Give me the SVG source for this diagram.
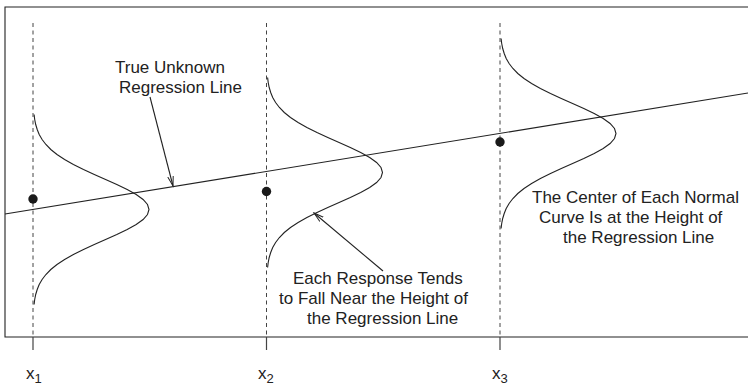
<svg xmlns="http://www.w3.org/2000/svg" width="748" height="385" viewBox="0 0 748 385">
<style>
.ln{fill:none;stroke:#222;stroke-width:1.1}
.dash{fill:none;stroke:#444;stroke-width:1;stroke-dasharray:4,3.5}
.tick{fill:none;stroke:#444;stroke-width:1.2}
.dot{fill:#1a1a1a}
.t{font-family:"Liberation Sans",Arial,sans-serif;font-size:17px;fill:#222}
.sub{font-size:13px}
</style>
<defs>
<path id="normal" class="ln" d="M1.1,-95 L1.7,-90 L2.7,-85 L4.2,-80 L6.2,-75 L9.1,-70 L12.9,-65 L17.8,-60 L24,-55 L31.6,-50 L40.4,-45 L50.5,-40 L61.3,-35 L72.6,-30 L83.8,-25 L94.2,-20 L103.2,-15 L110.1,-10 L114.5,-5 L116,0 L114.5,5 L110.1,10 L103.2,15 L94.2,20 L83.8,25 L72.6,30 L61.3,35 L50.5,40 L40.4,45 L31.6,50 L24,55 L17.8,60 L12.9,65 L9.1,70 L6.2,75 L4.2,80 L2.7,85 L1.7,90 L1.1,95"/>
<marker id="arr" markerWidth="12" markerHeight="8" refX="10" refY="4" orient="auto" markerUnits="userSpaceOnUse">
<path d="M0,1.2 L10,4 L0,6.8" fill="none" stroke="#222" stroke-width="1"/>
</marker>
</defs>
<g id="frame">
<path class="ln" d="M748,7 L5,7 L5,337 L748,337"/>
</g>
<g id="regression-line">
<line class="ln" x1="5" y1="214" x2="748" y2="93"/>
</g>
<g id="x1">
<line class="dash" x1="33" y1="23" x2="33" y2="337"/>
<line class="tick" x1="33" y1="337" x2="33" y2="350"/>
<use href="#normal" transform="translate(33,209.5)"/>
<circle class="dot" cx="33" cy="199" r="4.7"/>
<text class="t" x="26" y="379">x<tspan class="sub" dy="4">1</tspan></text>
</g>
<g id="x2">
<line class="dash" x1="266.5" y1="23" x2="266.5" y2="337"/>
<line class="tick" x1="266.5" y1="337" x2="266.5" y2="350"/>
<use href="#normal" transform="translate(266.5,172.5)"/>
<circle class="dot" cx="266.5" cy="191.5" r="4.7"/>
<text class="t" x="258" y="379">x<tspan class="sub" dy="4">2</tspan></text>
</g>
<g id="x3">
<line class="dash" x1="500" y1="23" x2="500" y2="337"/>
<line class="tick" x1="500" y1="337" x2="500" y2="350"/>
<use href="#normal" transform="translate(500,133.5)"/>
<circle class="dot" cx="500" cy="142" r="4.7"/>
<text class="t" x="492" y="379">x<tspan class="sub" dy="4">3</tspan></text>
</g>
<g id="label-true-line">
<text class="t" x="115" y="73">True Unknown</text>
<text class="t" x="119" y="93">Regression Line</text>
</g>
<g id="label-response">
<text class="t" x="293" y="284">Each Response Tends</text>
<text class="t" x="279" y="304">to Fall Near the Height of</text>
<text class="t" x="307" y="324">the Regression Line</text>
</g>
<g id="label-center">
<text class="t" x="532" y="203">The Center of Each Normal</text>
<text class="t" x="539" y="223">Curve Is at the Height of</text>
<text class="t" x="563" y="243">the Regression Line</text>
</g>
<g id="connectors">
<line class="ln" x1="150" y1="97" x2="173" y2="186" marker-end="url(#arr)"/>
<line class="ln" x1="383" y1="271" x2="314" y2="213" marker-end="url(#arr)"/>
</g>
</svg>
